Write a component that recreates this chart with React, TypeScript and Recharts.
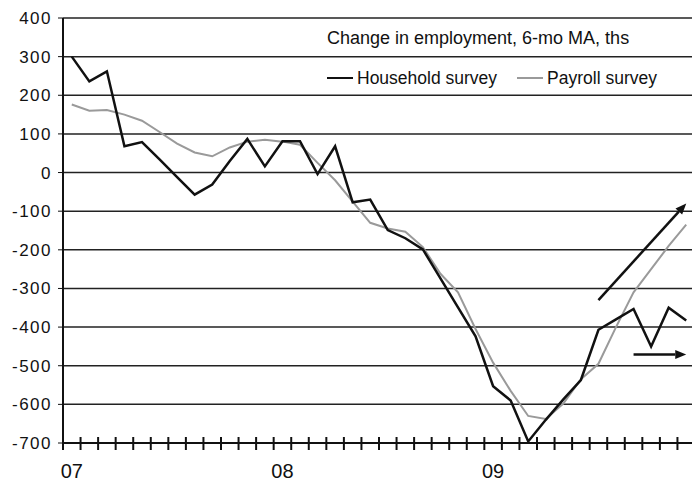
import React from 'react';
import { LineChart, Line, XAxis, YAxis, CartesianGrid, Legend, ReferenceLine } from 'recharts';

// months Jan 2007 .. Dec 2009
const years = ['07', '08', '09'];
const monthNames = ['Jan', 'Feb', 'Mar', 'Apr', 'May', 'Jun', 'Jul', 'Aug', 'Sep', 'Oct', 'Nov', 'Dec'];
const months = years.flatMap((yr) => monthNames.map((m) => `${m} ${yr}`));

// change in employment, 6-mo moving average, thousands
const household = [
    300, 236, 262, 68, 79, 34, -12, -57, -31, 30, 87, 16,
    81, 81, -4, 68, -77, -70, -149, -170, -199, -274, -349, -424,
    -553, -590, -696, -640, -587, -537, -407, -380, -353, -450, -350, -383,
];
const payroll = [
    176, 160, 162, 150, 134, 105, 75, 52, 42, 65, 80, 85,
    80, 72, 25, -20, -75, -130, -145, -153, -193, -262, -310, -405,
    -492, -565, -630, -638, -598, -535, -495, -400, -310, -250, -190, -135,
];

const yTicks = [400, 300, 200, 100, 0, -100, -200, -300, -400, -500, -600, -700];
const title = 'Change in employment, 6-mo MA, ths';
const seriesOrder = ['Household survey', 'Payroll survey'];

// hand-drawn trend arrows
const trendUp = [
    { month: 'Jul 09', value: -330 },
    { month: 'Dec 09', value: -80 },
];
const trendFlat = [
    { month: 'Sep 09', value: -471 },
    { month: 'Dec 09', value: -471 },
];

const data = months.map((month, i) => ({
    month,
    household: household[i],
    payroll: payroll[i],
}));

const FONT = 'Arial, "Liberation Sans", sans-serif';
const CHART_W = 700;
const CHART_H = 484;
const Y_W = 63;
const RIGHT = 5;
const HALF_BAND = (CHART_W - Y_W - RIGHT) / months.length / 2;

const MonthTick = (props: any) => {
    const { x, y, payload } = props;
    const left = x - HALF_BAND;
    const value: string = payload.value;
    const label = value.startsWith('Jan') ? value.slice(4) : null;
    return (
        <g>
            <line x1={left} x2={left} y1={y - 6} y2={y + 7} stroke="#111" strokeWidth={2} />
            {label && (
                <text x={x} y={y + 30} textAnchor="middle" dominantBaseline="middle"
                    fontSize={20} fontFamily={FONT} fill="#111">
                    {label}
                </text>
            )}
        </g>
    );
};

const Arrow = (props: any) => {
    const { x1, y1, x2, y2 } = props;
    if ([x1, y1, x2, y2].some((v) => v == null || isNaN(v))) return null;
    const a = Math.atan2(y2 - y1, x2 - x1);
    const head = 11;
    const wing = 4.5;
    const bx = x2 - head * Math.cos(a);
    const by = y2 - head * Math.sin(a);
    const px = -Math.sin(a) * wing;
    const py = Math.cos(a) * wing;
    return (
        <g>
            <line x1={x1} y1={y1} x2={bx} y2={by} stroke="#111" strokeWidth={2.5} />
            <polygon points={`${x2},${y2} ${bx + px},${by + py} ${bx - px},${by - py}`} fill="#111" />
        </g>
    );
};

const LegendBox = ({ payload }: any) => {
    const items = [...(payload ?? [])].sort(
        (a: any, b: any) => seriesOrder.indexOf(a.value) - seriesOrder.indexOf(b.value)
    );
    return (
        <div style={{ fontFamily: FONT, color: '#111', width: 370 }}>
            <div style={{ fontSize: 18, lineHeight: '20px' }}>{title}</div>
            <div style={{ display: 'flex', alignItems: 'center', marginTop: 20, fontSize: 17.5, lineHeight: '20px' }}>
                {items.map((p: any) => (
                    <span key={p.value} style={{ display: 'inline-flex', alignItems: 'center', marginRight: 20 }}>
                        <svg width={26} height={4} style={{ marginRight: 4 }}>
                            <line x1={0} x2={26} y1={2} y2={2} stroke={p.color} strokeWidth={2} />
                        </svg>
                        {p.value}
                    </span>
                ))}
            </div>
        </div>
    );
};

export default function App() {
    return (
        <div style={{ position: 'absolute', left: 0, top: 0, width: 692, height: 484, overflow: 'hidden', background: '#fff' }}>
            <LineChart
                width={CHART_W}
                height={CHART_H}
                data={data}
                margin={{ top: 18, right: RIGHT, left: 0, bottom: 0 }}
            >
                <CartesianGrid vertical={false} stroke="#222" strokeWidth={1.5} />
                <XAxis
                    dataKey="month"
                    interval={0}
                    height={41}
                    padding={{ left: HALF_BAND, right: HALF_BAND }}
                    tickLine={false}
                    tickSize={0}
                    tickMargin={0}
                    tick={<MonthTick />}
                    axisLine={{ stroke: '#111', strokeWidth: 2 }}
                />
                <YAxis
                    domain={[-700, 400]}
                    ticks={yTicks}
                    width={Y_W}
                    tickSize={5}
                    tickMargin={6}
                    axisLine={{ stroke: '#111', strokeWidth: 2 }}
                    tickLine={{ stroke: '#111' }}
                    tick={{ fontSize: 17, fill: '#111', fontFamily: FONT, letterSpacing: 1.5 }}
                />
                <Legend
                    layout="horizontal"
                    verticalAlign="middle"
                    align="center"
                    wrapperStyle={{ left: 327, top: 28, width: 370 }}
                    content={<LegendBox />}
                />
                <Line
                    type="linear"
                    dataKey="payroll"
                    name="Payroll survey"
                    stroke="#9a9a9a"
                    strokeWidth={2}
                    dot={false}
                    isAnimationActive={false}
                />
                <Line
                    type="linear"
                    dataKey="household"
                    name="Household survey"
                    stroke="#111"
                    strokeWidth={2.5}
                    dot={false}
                    isAnimationActive={false}
                />
                <ReferenceLine
                    segment={trendUp.map((p) => ({ x: p.month, y: p.value }))}
                    shape={Arrow}
                    ifOverflow="visible"
                />
                <ReferenceLine
                    segment={trendFlat.map((p) => ({ x: p.month, y: p.value }))}
                    shape={Arrow}
                    ifOverflow="visible"
                />
            </LineChart>
        </div>
    );
}
